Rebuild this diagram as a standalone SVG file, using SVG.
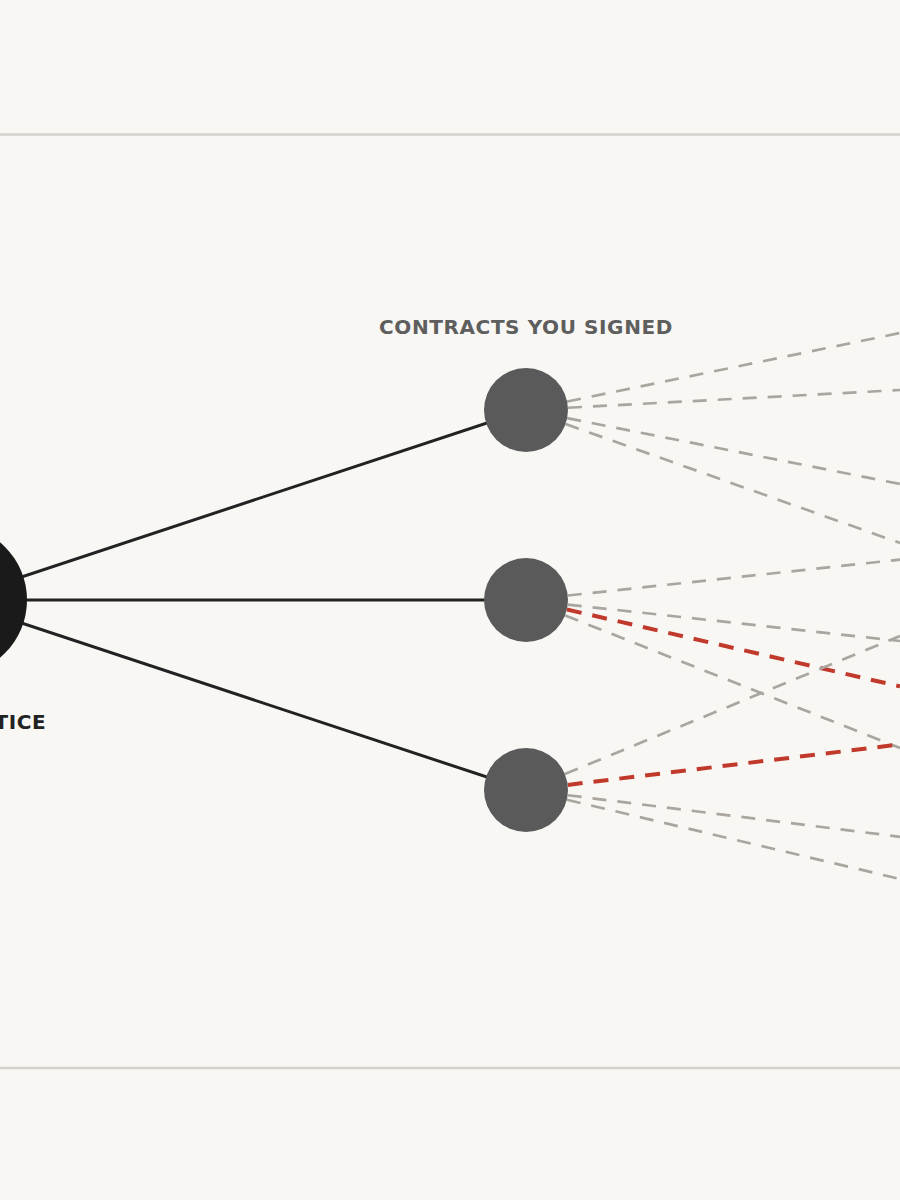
<svg xmlns="http://www.w3.org/2000/svg" width="900" height="1200" viewBox="0 0 900 1200">
<style>
.bg{fill:#f8f7f4}
.rule{stroke:#d5d2cc;stroke-width:2.5}
.solid{stroke:#222222;stroke-width:3;fill:none}
.dash{stroke:#aaa69f;stroke-width:2.7;stroke-dasharray:14 11;stroke-dashoffset:8;fill:none}
.hot{stroke:#c0392b;stroke-width:4;stroke-dasharray:15 11;stroke-dashoffset:10;fill:none}
.root{fill:#1a1a1a}
.mid{fill:#5a5a5a}
.title{font-family:"DejaVu Sans",Verdana,sans-serif;font-weight:bold;font-size:20px;letter-spacing:0.6px;fill:#5e5e5e}
.label{font-family:"DejaVu Sans",Verdana,sans-serif;font-weight:bold;font-size:20px;letter-spacing:0.6px;fill:#222222}
</style>
<rect class="bg" x="0" y="0" width="900" height="1200"/>
<line class="rule" x1="0" y1="134.5" x2="900" y2="134.5"/>
<line class="rule" x1="0" y1="1068" x2="900" y2="1068"/>
<g id="connectors">
  <line class="solid" x1="-48" y1="600" x2="526" y2="410"/>
  <line class="solid" x1="-48" y1="600" x2="526" y2="600"/>
  <line class="solid" x1="-48" y1="600" x2="526" y2="790"/>
  <line class="dash" x1="526" y1="410" x2="900" y2="333"/>
  <line class="dash" x1="526" y1="410" x2="900" y2="390"/>
  <line class="dash" x1="526" y1="410" x2="900" y2="484"/>
  <line class="dash" x1="526" y1="410" x2="900" y2="543"/>
  <line class="dash" x1="526" y1="600" x2="900" y2="559.6"/>
  <line class="dash" x1="526" y1="600" x2="900" y2="641"/>
  <line class="hot" x1="526" y1="600" x2="900" y2="686.4"/>
  <line class="dash" x1="526" y1="600" x2="900" y2="748"/>
  <line class="dash" x1="526" y1="790" x2="900" y2="636"/>
  <line class="hot" x1="526" y1="790" x2="900" y2="744.4"/>
  <line class="dash" x1="526" y1="790" x2="900" y2="836.8"/>
  <line class="dash" x1="526" y1="790" x2="900" y2="879"/>
</g>
<g id="node-root">
  <circle class="root" cx="-48" cy="600" r="75"/>
  <text class="label" x="-5.5" y="729">TICE</text>
</g>
<g id="node-contract-1">
  <circle class="mid" cx="526" cy="410" r="42"/>
  <text class="title" x="526" y="334" text-anchor="middle">CONTRACTS YOU SIGNED</text>
</g>
<g id="node-contract-2">
  <circle class="mid" cx="526" cy="600" r="42"/>
</g>
<g id="node-contract-3">
  <circle class="mid" cx="526" cy="790" r="42"/>
</g>
</svg>
